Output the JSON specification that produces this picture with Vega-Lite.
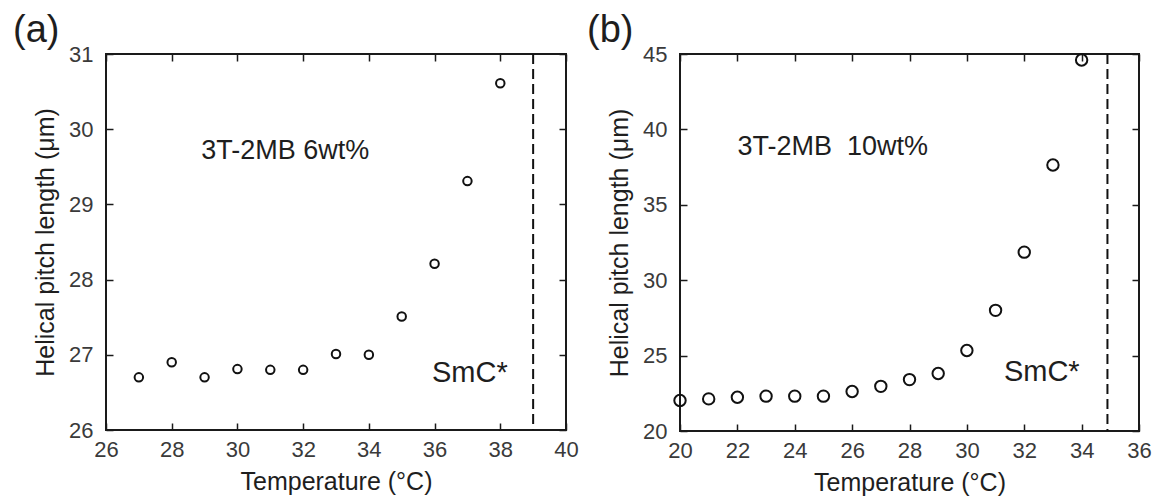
{
  "$schema": "https://vega.github.io/schema/vega-lite/v6.json",
  "background": "white",
  "padding": {"left": 12, "top": 11, "right": 5, "bottom": 0},
  "datasets": {
    "a": [
      {"T": 27, "P": 26.70}, {"T": 28, "P": 26.90}, {"T": 29, "P": 26.70},
      {"T": 30, "P": 26.81}, {"T": 31, "P": 26.80}, {"T": 32, "P": 26.80},
      {"T": 33, "P": 27.01}, {"T": 34, "P": 27.00}, {"T": 35, "P": 27.51},
      {"T": 36, "P": 28.21}, {"T": 37, "P": 29.31}, {"T": 38, "P": 30.61}
    ],
    "b": [
      {"T": 20, "P": 22.02}, {"T": 21, "P": 22.13}, {"T": 22, "P": 22.24},
      {"T": 23, "P": 22.31}, {"T": 24, "P": 22.31}, {"T": 25, "P": 22.31},
      {"T": 26, "P": 22.62}, {"T": 27, "P": 22.96}, {"T": 28, "P": 23.41},
      {"T": 29, "P": 23.81}, {"T": 30, "P": 25.34}, {"T": 31, "P": 28.0},
      {"T": 32, "P": 31.86}, {"T": 33, "P": 37.64}, {"T": 34, "P": 44.6}
    ]
  },
  "hconcat": [
    {
      "width": 460,
      "height": 376,
      "title": {"text": "(a)", "anchor": "start", "frame": "group", "dx": -93, "offset": -7},
      "layer": [
        {
          "data": {"name": "a"},
          "mark": {"type": "point", "shape": "circle", "filled": false, "size": 72, "strokeWidth": 2, "color": "#111111", "opacity": 1},
          "encoding": {
            "x": {"field": "T", "type": "quantitative", "scale": {"domain": [26, 40], "nice": false, "zero": false},
                  "axis": {"orient": "bottom", "values": [26, 28, 30, 32, 34, 36, 38, 40], "title": "Temperature (°C)"}},
            "y": {"field": "P", "type": "quantitative", "scale": {"domain": [26, 31], "nice": false, "zero": false},
                  "axis": {"orient": "left", "values": [26, 27, 28, 29, 30, 31], "title": "Helical pitch length (μm)"}}
          }
        },
        {
          "data": {"values": [{}]},
          "mark": {"type": "rule", "strokeDash": [10, 5], "strokeWidth": 2, "color": "#111111"},
          "encoding": {
            "x": {"datum": 39, "type": "quantitative",
                  "axis": {"orient": "top", "values": [26, 28, 30, 32, 34, 36, 38, 40], "labels": false, "title": null}}
          }
        },
        {
          "data": {"values": [{}]},
          "mark": {"type": "text", "align": "left", "baseline": "alphabetic", "fontSize": 27, "color": "#1e1e1e", "font": "Liberation Sans"},
          "encoding": {
            "x": {"datum": 28.9, "type": "quantitative", "axis": null},
            "y": {"datum": 29.61, "type": "quantitative",
                  "axis": {"orient": "right", "values": [26, 27, 28, 29, 30, 31], "labels": false, "title": null}},
            "text": {"value": "3T-2MB 6wt%"}
          }
        },
        {
          "data": {"values": [{}]},
          "mark": {"type": "text", "align": "left", "baseline": "alphabetic", "fontSize": 29, "color": "#1e1e1e", "font": "Liberation Sans"},
          "encoding": {
            "x": {"datum": 35.92, "type": "quantitative", "axis": null},
            "y": {"datum": 26.64, "type": "quantitative", "axis": null},
            "text": {"value": "SmC*"}
          }
        }
      ],
      "resolve": {"axis": {"x": "independent", "y": "independent"}}
    },
    {
      "width": 459,
      "height": 377,
      "title": {"text": "(b)", "anchor": "start", "frame": "group", "dx": -93, "offset": -7},
      "layer": [
        {
          "data": {"name": "b"},
          "mark": {"type": "point", "shape": "circle", "filled": false, "size": 130, "strokeWidth": 2, "color": "#111111", "opacity": 1},
          "encoding": {
            "x": {"field": "T", "type": "quantitative", "scale": {"domain": [20, 36], "nice": false, "zero": false},
                  "axis": {"orient": "bottom", "values": [20, 22, 24, 26, 28, 30, 32, 34, 36], "title": "Temperature (°C)"}},
            "y": {"field": "P", "type": "quantitative", "scale": {"domain": [20, 45], "nice": false, "zero": false},
                  "axis": {"orient": "left", "values": [20, 25, 30, 35, 40, 45], "title": "Helical pitch length (μm)"}}
          }
        },
        {
          "data": {"values": [{}]},
          "mark": {"type": "rule", "strokeDash": [10, 5], "strokeWidth": 2, "color": "#111111"},
          "encoding": {
            "x": {"datum": 34.9, "type": "quantitative",
                  "axis": {"orient": "top", "values": [20, 22, 24, 26, 28, 30, 32, 34, 36], "labels": false, "title": null}}
          }
        },
        {
          "data": {"values": [{}]},
          "mark": {"type": "text", "align": "left", "baseline": "alphabetic", "fontSize": 27, "color": "#1e1e1e", "font": "Liberation Sans"},
          "encoding": {
            "x": {"datum": 22.0, "type": "quantitative", "axis": null},
            "y": {"datum": 38.33, "type": "quantitative",
                  "axis": {"orient": "right", "values": [20, 25, 30, 35, 40, 45], "labels": false, "title": null}},
            "text": {"value": "3T-2MB \u00a010wt%"}
          }
        },
        {
          "data": {"values": [{}]},
          "mark": {"type": "text", "align": "left", "baseline": "alphabetic", "fontSize": 29, "color": "#1e1e1e", "font": "Liberation Sans"},
          "encoding": {
            "x": {"datum": 31.29, "type": "quantitative", "axis": null},
            "y": {"datum": 23.32, "type": "quantitative", "axis": null},
            "text": {"value": "SmC*"}
          }
        }
      ],
      "resolve": {"axis": {"x": "independent", "y": "independent"}}
    }
  ],
  "spacing": 6,
  "config": {
    "font": "Liberation Sans",
    "view": {"stroke": "#1a1a1a", "strokeWidth": 2},
    "axis": {
      "domain": false, "grid": false, "ticks": true, "tickSize": -7, "tickWidth": 1.5, "tickColor": "#1a1a1a",
      "labelFont": "Liberation Sans", "labelFontSize": 22, "labelColor": "#3a3a3a", "labelPadding": 16,
      "titleFont": "Liberation Sans", "titleFontSize": 25, "titleFontWeight": "normal", "titleColor": "#1e1e1e",
      "labelFlush": false, "labelOverlap": false
    },
    "axisY": {"titlePadding": 10, "labelPadding": 20},
    "axisX": {"titlePadding": 9},
    "title": {"font": "Liberation Sans", "fontSize": 38, "fontWeight": "normal", "color": "#1e1e1e"}
  }
}
